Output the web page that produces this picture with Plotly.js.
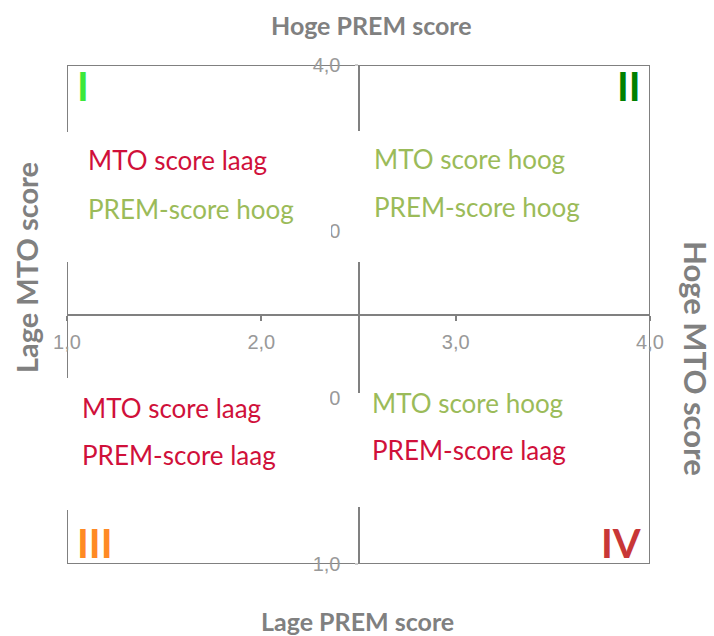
<!DOCTYPE html>
<html>
<head>
<meta charset="utf-8">
<script src="https://cdn.plot.ly/plotly-3.0.1.min.js"></script>
<style>html,body{margin:0;padding:0;background:#fff;}#chart{width:714px;height:636px;}</style>
</head>
<body>
<div id="chart"></div>
<script>
// ---- data ----
const xTickVals = [1, 2, 3, 4];
const yTickVals = [1, 2, 3, 4];
const axisRange = [1, 4];
const midPoint = 2.5;
const quadrantNumerals = ["I", "II", "III", "IV"];
const quadrantLine1 = ["MTO score laag", "MTO score hoog", "MTO score laag", "MTO score hoog"];
const quadrantLine2 = ["PREM-score hoog", "PREM-score hoog", "PREM-score laag", "PREM-score laag"];
const axisTitles = {top: "Hoge PREM score", bottom: "Lage PREM score", left: "Lage MTO score", right: "Hoge MTO score"};

// ---- style ----
const W = 714, H = 636;
const L = 67, R = 650, T = 65, B = 564;
const px = v => (v - L) / (R - L);
const py = v => (B - v) / (B - T);
const RED = "#D0103A", GREEN = "#9BBB59", GRAY = "#808080";
const numeralColors = ["#3BE83B", "#008000", "#FF8A24", "#C83737"];
const line1Colors = [RED, GREEN, RED, GREEN];
const line2Colors = [GREEN, GREEN, RED, RED];
const TXT = "Lato, 'Noto Sans', sans-serif";

// text anchors per quadrant (pixel positions)
const textX = [86, 372, 80, 370];
const text1Y = [160, 159, 408, 403];
const text2Y = [209, 207, 455, 450];
const numX = [75, 643, 75, 643];
const numY = [86, 86, 543, 543];
const numAnchor = ["left", "right", "left", "right"];
// white panels behind the quadrant texts (pixels)
const panels = [
  [60, 132, 331, 262],
  [354, 131, 646, 262],
  [60, 378, 330, 510],
  [352, 393, 646, 507]
];

const annotations = [];
for (let i = 0; i < 4; i++) {
  annotations.push({xref: "paper", yref: "paper", x: px(textX[i]), y: py(text1Y[i]), xanchor: "left", yanchor: "middle",
    text: quadrantLine1[i], showarrow: false, font: {family: TXT, size: 26, color: line1Colors[i]}});
  annotations.push({xref: "paper", yref: "paper", x: px(textX[i]), y: py(text2Y[i]), xanchor: "left", yanchor: "middle",
    text: quadrantLine2[i], showarrow: false, font: {family: TXT, size: 26, color: line2Colors[i]}});
  annotations.push({xref: "paper", yref: "paper", x: px(numX[i]), y: py(numY[i]), xanchor: numAnchor[i], yanchor: "middle",
    text: "<b>" + quadrantNumerals[i] + "</b>", showarrow: false, font: {family: TXT, size: 40, color: numeralColors[i]}});
}
const titleFont = s => ({family: TXT, size: s, color: GRAY});
annotations.push({xref: "paper", yref: "paper", x: px(371), y: py(25), xanchor: "center", yanchor: "middle",
  text: "<b>" + axisTitles.top + "</b>", showarrow: false, font: titleFont(25)});
annotations.push({xref: "paper", yref: "paper", x: px(357), y: py(621), xanchor: "center", yanchor: "middle",
  text: "<b>" + axisTitles.bottom + "</b>", showarrow: false, font: titleFont(25)});
annotations.push({xref: "paper", yref: "paper", x: px(26), y: py(268), xanchor: "center", yanchor: "middle", textangle: -90,
  text: "<b>" + axisTitles.left + "</b>", showarrow: false, font: titleFont(29)});
annotations.push({xref: "paper", yref: "paper", x: px(696), y: py(358), xanchor: "center", yanchor: "middle", textangle: 90,
  text: "<b>" + axisTitles.right + "</b>", showarrow: false, font: titleFont(31)});

const shapes = [
  {type: "rect", xref: "x", yref: "y", x0: axisRange[0], x1: axisRange[1], y0: axisRange[0], y1: axisRange[1],
   line: {color: GRAY, width: 2}, layer: "below"}
];
panels.forEach(p => shapes.push({type: "rect", xref: "paper", yref: "paper", x0: px(p[0]), x1: px(p[2]), y0: py(p[3]), y1: py(p[1]),
  fillcolor: "#ffffff", line: {width: 0}, layer: "above"}));

const tickFont = {family: "'Liberation Sans', Arial, sans-serif", size: 20, color: "#999999"};
const layout = {
  width: W, height: H,
  margin: {l: L, r: W - R, t: T, b: H - B, pad: 0},
  paper_bgcolor: "#ffffff", plot_bgcolor: "#ffffff",
  separators: ",.",
  showlegend: false,
  xaxis: {range: axisRange, tickvals: xTickVals, tickformat: ".1f", anchor: "free", position: 0.5,
    showline: true, linecolor: GRAY, linewidth: 2, showgrid: false, zeroline: false,
    ticks: "outside", ticklen: 5, tickwidth: 2, tickcolor: GRAY, tickfont: tickFont, ticklabelstandoff: 4, fixedrange: true},
  yaxis: {range: axisRange, tickvals: yTickVals, tickformat: ".1f", anchor: "free", position: 0.5,
    showline: true, linecolor: GRAY, linewidth: 2, showgrid: false, zeroline: false,
    ticks: "outside", ticklen: 3, tickwidth: 2, tickcolor: "#cccccc", tickfont: tickFont, ticklabelstandoff: 10, fixedrange: true},
  shapes: shapes,
  annotations: annotations
};
Plotly.newPlot("chart", [{x: [], y: [], type: "scatter", mode: "markers", hoverinfo: "skip"}], layout, {displayModeBar: false, staticPlot: true});
</script>
</body>
</html>
